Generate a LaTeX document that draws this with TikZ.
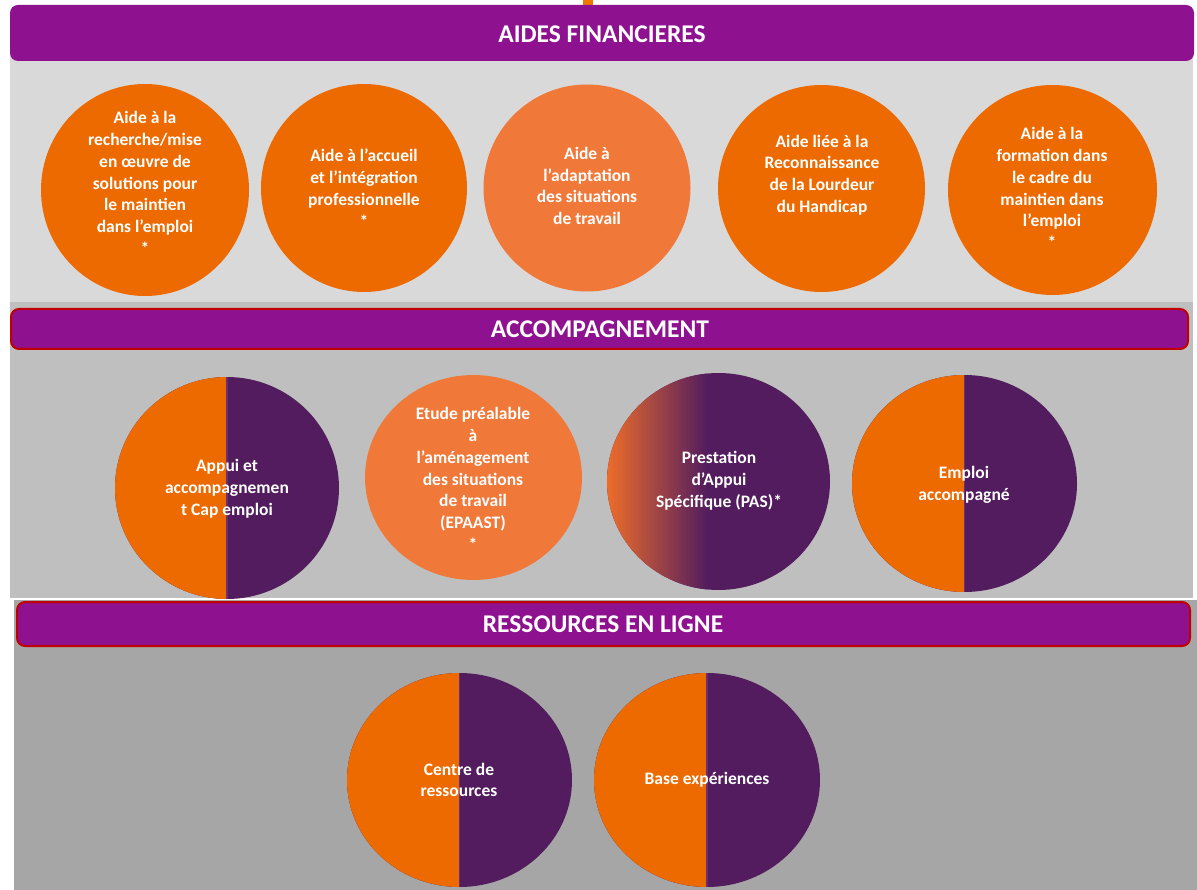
\documentclass[tikz,border=0pt]{standalone}
\usepackage{fontspec}
\setmainfont{Carlito}
\usetikzlibrary{shapes.geometric}
\definecolor{hdrpurple}{HTML}{8E1290}
\definecolor{hdrred}{HTML}{C00000}
\definecolor{orng}{HTML}{EC6A00}
\definecolor{lorng}{HTML}{F07838}
\definecolor{gorng}{HTML}{EC6C2A}
\definecolor{dpurple}{HTML}{521C5E}
\definecolor{divline}{HTML}{6A2F6E}
\definecolor{bandA}{HTML}{D9D9D9}
\definecolor{bandB}{HTML}{BFBFBF}
\definecolor{bandC}{HTML}{A6A6A6}
\tikzset{
  hdr/.style={rounded corners=8pt, fill=hdrpurple},
  hdrr/.style={hdr, draw=hdrred, line width=2pt},
  hdrtxt/.style={text=white, font=\bfseries\fontsize{25.5}{28}\selectfont},
  disc/.style={ellipse, inner sep=0pt, draw=none},
  fullo/.style={disc, fill=orng},
  lighto/.style={disc, fill=lorng},
  half/.style={disc, fill=dpurple, path picture={
      \fill[orng] (path picture bounding box.south west) rectangle (path picture bounding box.north);
      \draw[divline, line width=1.5pt] (path picture bounding box.south) -- (path picture bounding box.north);}},
  grad/.style={disc, fill=dpurple, path picture={
      \foreach \i in {0,...,49} {
        \pgfmathsetmacro{\pc}{100-2*\i}
        \fill[gorng!\pc!dpurple] ([xshift=2*\i pt]path picture bounding box.south west) rectangle ([xshift=2*\i pt+2.4pt]path picture bounding box.north west);
      }}},
  lbl/.style={text=white, align=center, inner sep=0pt, font=\bfseries\fontsize{17.5}{21.8}\selectfont},
}
\begin{document}
\begin{tikzpicture}[x=1pt,y=-1pt]
\useasboundingbox (0,0) rectangle (1197,890);
\fill[white] (0,0) rectangle (1197,890);
% bands
\fill[bandA] (10,30) rectangle (1193,302);
\fill[bandB] (10,302) rectangle (1193,598);
\fill[bandC] (14,600) rectangle (1197,890);
% top marker
\fill[orng!90!yellow] (583,0) rectangle (593,7);
% headers
\path[hdr] (10,5) rectangle (1194,61);
\node[hdrtxt] (h1) at (602,34) {AIDES FINANCIERES};
\path[hdrr] (11,309) rectangle (1188,349);
\node[hdrtxt] (h2) at (600,329) {ACCOMPAGNEMENT};
\path[hdrr] (17,602) rectangle (1190,646);
\node[hdrtxt] (h3) at (603,624) {RESSOURCES EN LIGNE};
% row 1
\node[fullo, minimum width=208pt, minimum height=212pt] (c11) at (145,190) {};
\node[fullo, minimum width=206pt, minimum height=208pt] (c12) at (364,188) {};
\node[lighto, minimum width=207pt, minimum height=207pt] (c13) at (587,188) {};
\node[fullo, minimum width=207pt, minimum height=207pt] (c14) at (821.5,188.5) {};
\node[fullo, minimum width=209pt, minimum height=210pt] (c15) at (1052.5,190) {};
\node[lbl] (t11) at (145,183) {Aide à la\\recherche/mise\\en œuvre de\\solutions pour\\le maintien\\dans l’emploi\\*};
\node[lbl] (t12) at (364,188) {Aide à l’accueil\\et l’intégration\\professionnelle\\*};
\node[lbl] (t13) at (587,186) {Aide à\\l’adaptation\\des situations\\de travail};
\node[lbl] (t14) at (822,175) {Aide liée à la\\Reconnaissance\\de la Lourdeur\\du Handicap};
\node[lbl] (t15) at (1052,188) {Aide à la\\formation dans\\le cadre du\\maintien dans\\l’emploi\\*};
% row 2
\node[half, minimum width=224pt, minimum height=222pt] (c21) at (227,488) {};
\node[lighto, minimum width=217pt, minimum height=205pt] (c22) at (473.5,477.5) {};
\node[grad, minimum width=223pt, minimum height=217pt] (c23) at (718.5,481.5) {};
\node[half, minimum width=225pt, minimum height=217pt] (c24) at (964.5,483.5) {};
\node[lbl] (t21) at (227,489) {Appui et\\accompagnemen\\t Cap emploi};
\node[lbl] (t22) at (473,479) {Etude préalable\\à\\l’aménagement\\des situations\\de travail\\(EPAAST)\\*};
\node[lbl] (t23) at (719,481) {Prestation\\d’Appui\\Spécifique (PAS)*};
\node[lbl] (t24) at (964,485) {Emploi\\accompagné};
% row 3
\node[half, minimum width=225pt, minimum height=214pt] (c31) at (459.5,780) {};
\node[half, minimum width=226pt, minimum height=214pt] (c32) at (707,780) {};
\node[lbl] (t31) at (459,780) {Centre de\\ressources};
\node[lbl] (t32) at (707,780) {Base expériences};
\end{tikzpicture}
\end{document}
